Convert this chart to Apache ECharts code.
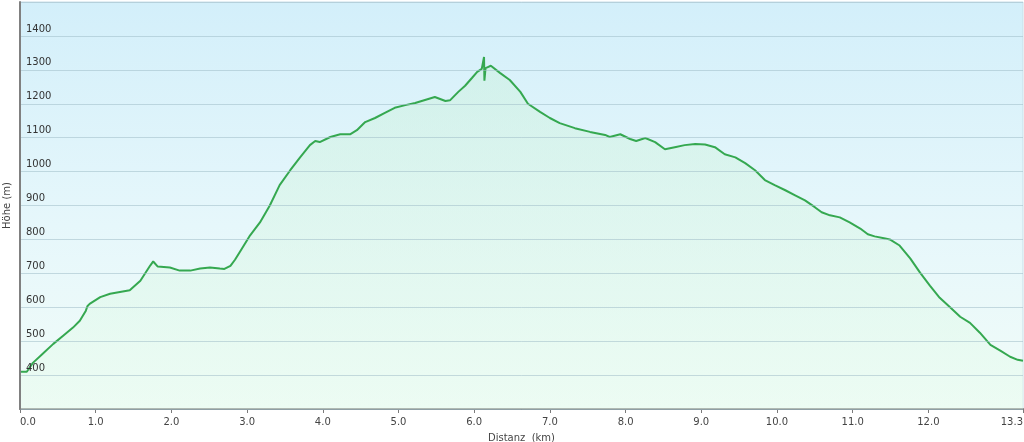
<!DOCTYPE html>
<html>
<head>
<meta charset="utf-8">
<script src="https://cdn.jsdelivr.net/npm/echarts@6/dist/echarts.min.js"></script>
<style>
  html, body { margin: 0; padding: 0; background: #fff; }
  #chart { width: 1024px; height: 442px; }
</style>
</head>
<body>
<div id="chart"></div>
<script>
// Distanz in km
var distanz = [
  0.00, 0.09, 0.17, 0.30, 0.44, 0.57, 0.70, 0.79, 0.87, 0.89, 0.92, 1.06, 1.19, 1.32, 1.45,
  1.59, 1.72, 1.76, 1.82, 1.98, 2.11, 2.25, 2.38, 2.51, 2.64, 2.70, 2.78, 2.84, 2.91, 3.04,
  3.17, 3.30, 3.43, 3.57, 3.70, 3.83, 3.90, 3.96, 4.10, 4.23, 4.36, 4.45, 4.56, 4.69, 4.82,
  4.95, 5.09, 5.22, 5.35, 5.48, 5.62, 5.68, 5.79, 5.88, 5.97, 6.04, 6.10, 6.13, 6.135, 6.15,
  6.18, 6.22, 6.34, 6.47, 6.61, 6.71, 6.87, 7.00, 7.13, 7.33, 7.53, 7.73, 7.79, 7.93, 8.06,
  8.14, 8.26, 8.39, 8.52, 8.65, 8.78, 8.92, 9.05, 9.18, 9.31, 9.45, 9.58, 9.71, 9.84, 9.97,
  10.11, 10.24, 10.37, 10.50, 10.59, 10.70, 10.83, 10.96, 11.10, 11.20, 11.29, 11.43, 11.49, 11.62, 11.76,
  11.89, 12.02, 12.15, 12.29, 12.42, 12.55, 12.68, 12.82, 12.95, 13.08, 13.18, 13.25
]
// Höhe in m
var hoehe = [
  410, 410, 436, 463, 492, 516, 540, 560, 590, 603, 610, 630, 640, 645, 650,
  678, 723, 735, 720, 717, 708, 708, 714, 717, 714, 713, 722, 740, 765, 812,
  850, 900, 960, 1004, 1042, 1078, 1090, 1087, 1102, 1110, 1110, 1122, 1146, 1158, 1173,
  1188, 1196, 1202, 1211, 1220, 1208, 1210, 1235, 1253, 1276, 1294, 1303, 1338, 1268, 1305,
  1308, 1312, 1291, 1270, 1235, 1200, 1176, 1158, 1143, 1128, 1117, 1108, 1102, 1110, 1096,
  1090, 1099, 1087, 1066, 1072, 1078, 1081, 1080, 1072, 1051, 1042, 1025, 1004, 975, 960,
  945, 930, 915, 895, 880, 871, 865, 850, 832, 815, 809, 803, 800, 782, 744,
  702, 664, 628, 599, 572, 554, 525, 489, 472, 454, 445, 442
]
var xTicks = [0, 1, 2, 3, 4, 5, 6, 7, 8, 9, 10, 11, 12, 13.25]
var yTicks = [400, 500, 600, 700, 800, 900, 1000, 1100, 1200, 1300, 1400]

var chart = echarts.init(document.getElementById('chart'))
var font = 'DejaVu Sans'

chart.setOption({
  animation: false,
  grid: {
    left: 20,
    right: 1,
    top: 2,
    bottom: 33,
    containLabel: false,
    outerBoundsMode: 'none',
    show: true,
    borderWidth: 1,
    borderColor: '#c9dfe8',
    backgroundColor: new echarts.graphic.LinearGradient(0, 0, 0, 1, [
      { offset: 0, color: '#d3effa' },
      { offset: 0.55, color: '#e6f7fb' },
      { offset: 1, color: '#f1fcf8' }
    ])
  },
  xAxis: {
    type: 'value',
    min: 0,
    max: 13.25,
    name: 'Distanz  (km)',
    nameLocation: 'middle',
    nameGap: 24,
    nameTextStyle: { color: '#444', fontFamily: font, fontSize: 10 },
    axisLine: { show: true, onZero: false, lineStyle: { color: '#7a7a7a', width: 2 } },
    axisTick: { show: true, length: 4, customValues: xTicks, lineStyle: { color: '#7a7a7a' } },
    axisLabel: {
      customValues: xTicks,
      margin: 8,
      color: '#444',
      fontFamily: font,
      fontSize: 10,
      alignMaxLabel: 'right',
      alignMinLabel: 'left',
      formatter: function (v) { return v.toFixed(1) }
    },
    splitLine: { show: false }
  },
  yAxis: {
    type: 'value',
    min: 300,
    max: 1500,
    interval: 100,
    z: 5,
    name: 'Höhe (m)',
    nameLocation: 'middle',
    nameGap: 3,
    nameTextStyle: { color: '#444', fontFamily: font, fontSize: 10 },
    axisLine: { show: true, lineStyle: { color: '#808080', width: 2 } },
    axisTick: { show: false },
    axisLabel: {
      inside: true,
      customValues: yTicks,
      margin: 6,
      verticalAlign: 'bottom',
      padding: [0, 0, 2, 0],
      color: '#333',
      fontFamily: font,
      fontSize: 10,
      formatter: function (v) { return String(v) }
    },
    splitLine: { show: true, lineStyle: { color: 'rgba(160,190,200,0.55)', width: 1 } }
  },
  series: [{
    type: 'line',
    z: 4,
    data: distanz.map(function (d, i) { return [d, hoehe[i]] }),
    showSymbol: false,
    smooth: false,
    lineStyle: { color: '#35a850', width: 2 },
    areaStyle: {
      origin: 'start',
      color: new echarts.graphic.LinearGradient(0, 0, 0, 1, [
        { offset: 0, color: 'rgba(200,240,215,0.6)' },
        { offset: 1, color: 'rgba(232,252,238,0.7)' }
      ])
    }
  }]
})
</script>
</body>
</html>
